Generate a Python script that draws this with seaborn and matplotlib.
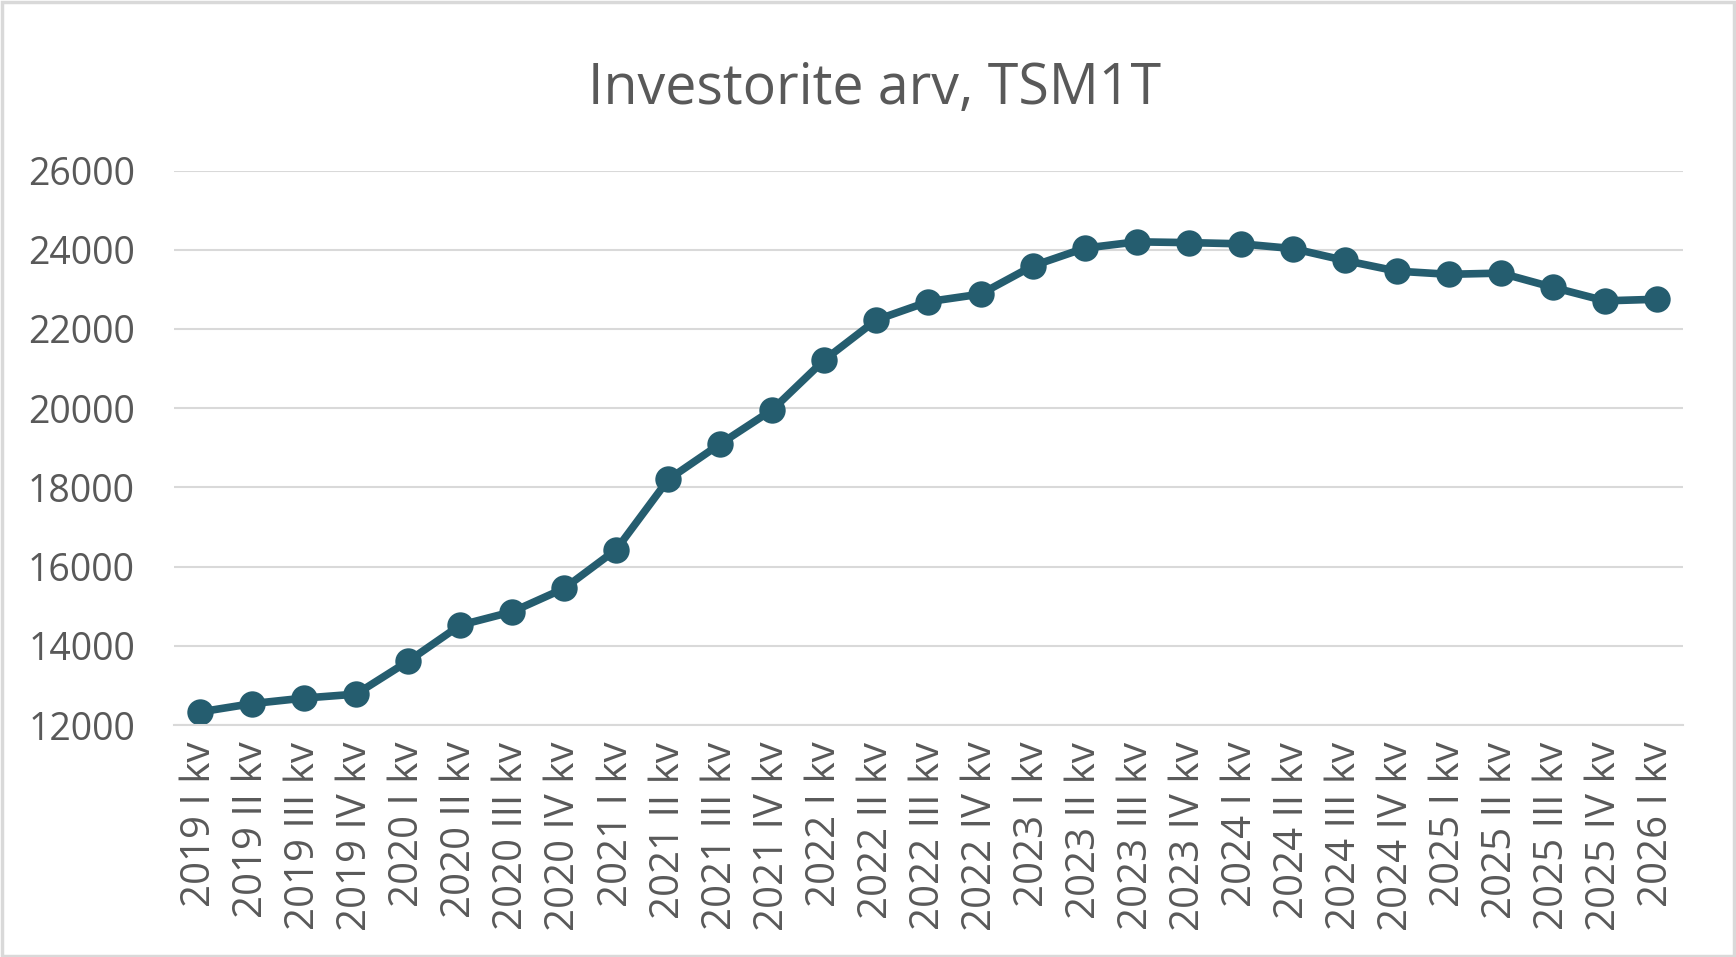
import matplotlib
matplotlib.use("Agg")
import matplotlib.pyplot as plt
import seaborn as sns
import pandas as pd
import numpy as np
from matplotlib.patches import Rectangle

# andmed: kvartalid ja investorite arv
aastad = ["2019"] * 4 + ["2020"] * 4 + ["2021"] * 4 + ["2022"] * 4 + ["2023"] * 4 + ["2024"] * 4 + ["2025"] * 4 + ["2026"]
kvartalid = ["I", "II", "III", "IV"] * 7 + ["I"]
investorid = [12330, 12540, 12680, 12780, 13610, 14520, 14860, 15450,
              16430, 18200, 19100, 19960, 21220, 22230, 22690, 22880,
              23590, 24040, 24200, 24180, 24150, 24030, 23730, 23460,
              23380, 23410, 23050, 22710, 22750]

sildid = [f"{a} {k} kv" for a, k in zip(aastad, kvartalid)]
df = pd.DataFrame({"kvartal": sildid, "investorid": investorid})

sns.set_style("white")
plt.rcParams['font.family'] = ['Open Sans', 'DejaVu Sans']
tekst = "#595959"
joon = "#d9d9d9"

fig = plt.figure(figsize=(17.36, 9.57), dpi=100)
ax = fig.add_axes([0.1002, 0.2424, 0.8693, 0.5794])

sns.lineplot(data=df, x="kvartal", y="investorid", sort=False, ax=ax,
             color="#255d6f", linewidth=5.5, marker="o", markersize=19,
             markeredgewidth=0)

ax.set_ylim(12000, 26000)
ax.set_yticks(range(12000, 26001, 2000))
ax.set_xlim(-0.5, len(sildid) - 0.5)
ax.set_xticks(range(len(sildid)))
ax.set_xticklabels(sildid, rotation=90)
ax.set_xticks(np.arange(-0.5, len(sildid), 1), minor=True)

ax.grid(axis="y", color=joon, linewidth=1.5)
ax.set_axisbelow(True)
for s in ["top", "right", "left"]:
    ax.spines[s].set_visible(False)
ax.spines["bottom"].set_color(joon)
ax.spines["bottom"].set_linewidth(1.5)

ax.tick_params(axis="y", length=0, pad=28, labelsize=27, labelcolor=tekst)
ax.tick_params(axis="x", which="major", length=0, pad=12, labelsize=29, labelcolor=tekst)
ax.tick_params(axis="x", which="minor", length=13, width=1.5, color=joon)
ax.set_xlabel("")
ax.set_ylabel("")

fig.text(0.504, 0.907, "Investorite arv, TSM1T", ha="center", va="center",
         fontsize=40, color=tekst)

# diagrammi raam
fig.patches.append(Rectangle((0.001, 0.001), 0.998, 0.997, transform=fig.transFigure,
                             fill=False, edgecolor=joon, linewidth=2.5))

fig.savefig("out.png", dpi=100)
